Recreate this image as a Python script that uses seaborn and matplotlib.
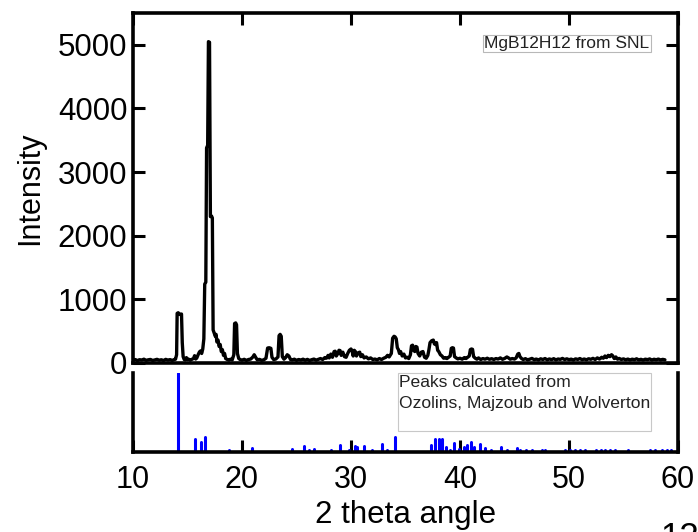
import matplotlib
matplotlib.use("Agg")
import matplotlib.pyplot as plt
from matplotlib.patches import Rectangle
import pandas as pd
import seaborn as sns

# Measured powder pattern (2-theta in degrees, counts)
two_theta = [
    10.0, 10.2, 10.4, 10.6, 10.8, 11.0, 11.2, 11.4, 11.6, 11.8,
    12.0, 12.2, 12.4, 12.6, 12.8, 13.0, 13.2, 13.4, 13.6, 13.8,
    13.9, 14.0, 14.05, 14.15, 14.25, 14.35, 14.45, 14.52, 14.6, 14.7,
    14.8, 14.9, 15.0, 15.1, 15.25, 15.4, 15.55, 15.65, 15.75, 15.85,
    16.0, 16.1, 16.2, 16.3, 16.4, 16.5, 16.58, 16.68, 16.75, 16.85,
    16.92, 17.02, 17.1, 17.2, 17.28, 17.35, 17.45, 17.55, 17.62, 17.7,
    17.8, 17.9, 18.0, 18.1, 18.2, 18.3, 18.4, 18.5, 18.65, 18.8,
    18.95, 19.1, 19.25, 19.32, 19.42, 19.5, 19.58, 19.7, 19.85, 20.0,
    20.2, 20.4, 20.6, 20.8, 21.0, 21.12, 21.25, 21.4, 21.6, 21.8,
    22.0, 22.2, 22.35, 22.5, 22.65, 22.75, 22.9, 23.1, 23.3, 23.4,
    23.5, 23.6, 23.7, 23.85, 24.0, 24.15, 24.3, 24.45, 24.6, 24.8,
    25.0, 25.2, 25.4, 25.6, 25.8, 26.0, 26.2, 26.4, 26.6, 26.8,
    27.0, 27.2, 27.4, 27.6, 27.75, 27.9, 28.0, 28.15, 28.3, 28.45,
    28.55, 28.65, 28.8, 28.9, 29.0, 29.1, 29.25, 29.4, 29.55, 29.7,
    29.85, 30.0, 30.1, 30.2, 30.3, 30.4, 30.5, 30.65, 30.8, 30.9,
    31.05, 31.2, 31.4, 31.6, 31.8, 32.0, 32.2, 32.4, 32.6, 32.8,
    33.0, 33.2, 33.35, 33.5, 33.7, 33.82, 33.95, 34.05, 34.15, 34.25,
    34.35, 34.45, 34.55, 34.7, 34.85, 35.0, 35.15, 35.3, 35.45, 35.55,
    35.65, 35.75, 35.85, 35.95, 36.05, 36.15, 36.3, 36.45, 36.6, 36.75,
    36.9, 37.05, 37.15, 37.25, 37.4, 37.55, 37.65, 37.75, 37.85, 37.95,
    38.05, 38.2, 38.35, 38.5, 38.65, 38.8, 38.95, 39.1, 39.2, 39.3,
    39.4, 39.5, 39.65, 39.8, 40.0, 40.2, 40.4, 40.55, 40.7, 40.85,
    40.95, 41.05, 41.15, 41.25, 41.4, 41.55, 41.7, 41.9, 42.1, 42.3,
    42.5, 42.7, 42.9, 43.1, 43.3, 43.5, 43.7, 43.9, 44.1, 44.3,
    44.45, 44.6, 44.8, 45.0, 45.15, 45.3, 45.4, 45.5, 45.65, 45.8,
    46.0, 46.2, 46.4, 46.6, 46.8, 47.0, 47.2, 47.4, 47.6, 47.8,
    48.0, 48.2, 48.4, 48.6, 48.8, 49.0, 49.2, 49.4, 49.6, 49.8,
    50.0, 50.2, 50.4, 50.6, 50.8, 51.0, 51.2, 51.4, 51.6, 51.8,
    52.0, 52.2, 52.4, 52.6, 52.8, 53.0, 53.15, 53.3, 53.45, 53.6,
    53.75, 53.9, 54.0, 54.15, 54.3, 54.45, 54.6, 54.8, 55.0, 55.2,
    55.4, 55.6, 55.8, 56.0, 56.2, 56.4, 56.6, 56.8, 57.0, 57.2,
    57.4, 57.6, 57.8, 58.0, 58.2, 58.4, 58.6, 58.8,
]
intensity = [
    45, 55, 38, 52, 47, 60, 42, 50, 56, 40,
    48, 58, 44, 51, 39, 57, 46, 53, 41, 55,
    60, 130, 780, 790, 770, 760, 770, 320, 100, 55,
    48, 85, 52, 60, 44, 58, 70, 115, 62, 78,
    140, 175, 190, 150, 220, 380, 1240, 1270, 3380, 3420,
    5050, 5040, 2300, 2310, 2280, 520, 470, 420, 450, 330,
    360, 260, 290, 180, 210, 120, 150, 70, 55, 45,
    60, 48, 130, 620, 630, 600, 150, 70, 52, 44,
    58, 41, 55, 62, 95, 130, 90, 50, 57, 42,
    50, 75, 235, 240, 230, 90, 55, 62, 95, 430,
    450, 420, 100, 60, 85, 130, 110, 55, 48, 60,
    42, 55, 47, 60, 44, 57, 40, 52, 62, 45,
    58, 70, 55, 85, 75, 120, 80, 140, 90, 180,
    185, 110, 150, 200, 195, 120, 170, 100, 90, 150,
    200, 220, 190, 110, 200, 180, 110, 160, 170, 100,
    130, 80, 95, 65, 80, 55, 62, 50, 70, 55,
    75, 90, 120, 95, 150, 390, 420, 410, 380, 240,
    210, 150, 180, 110, 140, 80, 90, 70, 130, 270,
    280, 200, 180, 260, 250, 150, 110, 170, 180, 90,
    75, 120, 210, 320, 350, 360, 300, 290, 320, 200,
    180, 130, 110, 75, 85, 70, 90, 110, 230, 240,
    235, 100, 80, 65, 75, 60, 85, 70, 90, 110,
    210, 220, 215, 100, 75, 60, 80, 55, 70, 60,
    75, 58, 68, 55, 70, 62, 80, 58, 72, 95,
    80, 60, 70, 62, 80, 140, 150, 100, 70, 55,
    68, 50, 60, 72, 52, 62, 48, 66, 55, 70,
    50, 64, 53, 68, 49, 63, 57, 72, 54, 66,
    52, 61, 47, 65, 56, 70, 52, 63, 50, 67,
    58, 73, 55, 80, 62, 90, 75, 110, 85, 120,
    100, 130, 115, 70, 95, 60, 72, 55, 65, 50,
    62, 48, 60, 52, 66, 49, 58, 46, 60, 53,
    64, 47, 59, 51, 62, 48, 57, 50,
]

# Calculated reflections (2-theta in degrees, relative intensity in %)
calc_two_theta = [
    14.14, 15.67, 16.28, 16.58, 18.8, 20.9, 24.6, 25.66, 26.18, 26.6,
    28.2, 29.0, 29.8, 30.35, 30.55, 31.15, 31.97, 32.88, 33.3, 34.04,
    37.3, 37.7, 38.06, 38.36, 38.67, 39.07, 39.43, 39.9, 40.35, 40.65,
    41.05, 41.26, 41.8, 42.27, 42.8, 43.8, 44.3, 45.2, 45.5, 46.1,
    46.6, 47.5, 47.8, 49.6, 50.1, 50.55, 51.0, 51.5, 52.5, 52.9,
    53.3, 53.75, 54.2, 55.4, 57.4, 57.9, 58.5, 58.95, 59.4,
]
calc_rel_intensity = [
    100, 16, 13, 19, 3, 5, 4, 7, 2, 4,
    3, 9, 2, 7, 6, 7, 2, 10, 3, 19,
    9, 16, 17, 16, 6, 3, 12, 4, 6, 9,
    13, 6, 10, 5, 3, 6, 2, 5, 2, 2,
    2, 2, 2, 3, 3, 2, 2, 2, 3, 2,
    3, 2, 2, 2, 2, 2, 2, 2, 2,
]

x_ticks = [10, 20, 30, 40, 50, 60]
y_ticks = [0, 1000, 2000, 3000, 4000, 5000]
x_title = "2 theta angle"
y_title = "Intensity"
sample_label = "MgB12H12 from SNL"
calc_label_lines = ["Peaks calculated from", "Ozolins, Majzoub and Wolverton"]
page_number = "12"

sns.set_style("white")
plt.rcParams["font.family"] = ["Liberation Sans", "DejaVu Sans"]
plt.rcParams.update({"text.color": "black", "axes.labelcolor": "black",
                     "xtick.color": "black", "ytick.color": "black"})

W, H = 698, 532
fig = plt.figure(figsize=(W / 100, H / 100), dpi=100)


def fx(px):
    return px / W


def fy(py):
    return 1 - py / H


ax_top = fig.add_axes([fx(133), fy(363), fx(678) - fx(133), fy(13) - fy(363)])
ax_bot = fig.add_axes([fx(133), fy(452), fx(678) - fx(133), fy(373) - fy(452)])

spine_w = 2.6
tick_kw = dict(direction="in", length=8.6, width=2.2, color="black")

# --- measured pattern ---
measured = pd.DataFrame({"two_theta": two_theta, "intensity": intensity})
sns.lineplot(data=measured, x="two_theta", y="intensity", ax=ax_top,
             color="black", linewidth=2.4, estimator=None, sort=False)
ax_top.set_xlim(10, 60)
ax_top.set_ylim(0, 5500)
ax_top.set_xticks(x_ticks)
ax_top.set_yticks(y_ticks)
ax_top.set_xlabel("")
ax_top.set_ylabel(y_title, fontsize=22, labelpad=9)
ax_top.tick_params(axis="x", top=True, bottom=False, labelbottom=False, **tick_kw)
ax_top.tick_params(axis="y", left=True, right=True, labelsize=22.5, pad=4,
                   labelcolor="black", **tick_kw)
for s in ax_top.spines.values():
    s.set_linewidth(spine_w)
    s.set_color("black")

# --- calculated reflections ---
ax_bot.vlines(calc_two_theta, 0, calc_rel_intensity, colors="#0000ff",
              linewidth=2.2, capstyle="round")
ax_bot.set_xlim(10, 60)
ax_bot.set_ylim(0, 100)
ax_bot.set_xticks(x_ticks)
ax_bot.set_yticks([])
ax_bot.set_xlabel(x_title, fontsize=22.5, labelpad=4)
ax_bot.tick_params(axis="x", bottom=True, top=False, labelsize=22, pad=9,
                   labelcolor="black", **tick_kw)
ax_bot.spines["top"].set_visible(False)
for k in ("left", "right", "bottom"):
    ax_bot.spines[k].set_linewidth(spine_w)
    ax_bot.spines[k].set_color("black")

# --- annotation boxes ---
fig.text(fx(484), fy(43.5), sample_label, fontsize=12.5, color="#222222",
         ha="left", va="center",
         bbox=dict(boxstyle="square,pad=0.08", fc="white", ec="#b8b8b8", lw=0.8))

fig.patches.append(Rectangle((fx(398), fy(430.7)), fx(650.7) - fx(398),
                             fy(372.7) - fy(430.7), transform=fig.transFigure,
                             fc="white", ec="#c8c8c8", lw=0.8, zorder=5))
for i, line in enumerate(calc_label_lines):
    fig.text(fx(399), fy(387 + 21 * i), line, fontsize=12.6, color="#222222",
             ha="left", va="baseline", zorder=6)

fig.text(fx(660), fy(521), page_number, fontsize=25, color="black",
         ha="left", va="top")

fig.savefig("out.png", dpi=100)
